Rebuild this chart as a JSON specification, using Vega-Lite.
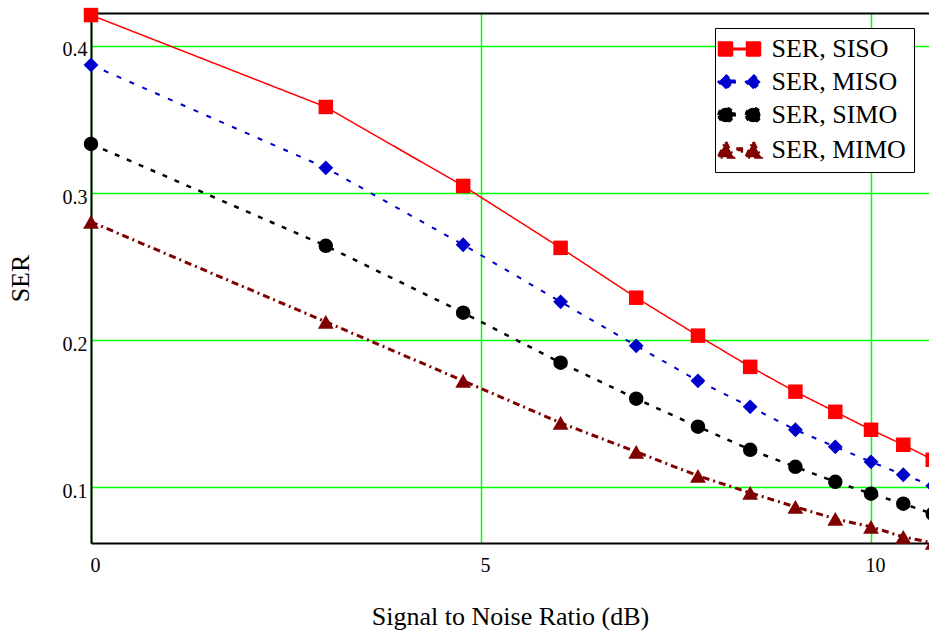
{
  "$schema": "https://vega.github.io/schema/vega-lite/v6.json",
  "autosize": "none",
  "width": 838,
  "height": 530,
  "padding": {"left": 91, "top": 13, "right": 0, "bottom": 91},
  "background": "white",
  "data": {"values": [
    {"snr": 0, "ser": 0.421, "s": "SER, SISO"},
    {"snr": 3.0103, "ser": 0.3585, "s": "SER, SISO"},
    {"snr": 4.7712, "ser": 0.3048, "s": "SER, SISO"},
    {"snr": 6.0206, "ser": 0.2627, "s": "SER, SISO"},
    {"snr": 6.9897, "ser": 0.2288, "s": "SER, SISO"},
    {"snr": 7.7815, "ser": 0.203, "s": "SER, SISO"},
    {"snr": 8.451, "ser": 0.1818, "s": "SER, SISO"},
    {"snr": 9.0309, "ser": 0.1649, "s": "SER, SISO"},
    {"snr": 9.5424, "ser": 0.1512, "s": "SER, SISO"},
    {"snr": 10, "ser": 0.139, "s": "SER, SISO"},
    {"snr": 10.4139, "ser": 0.1288, "s": "SER, SISO"},
    {"snr": 10.7918, "ser": 0.1186, "s": "SER, SISO"},
    {"snr": 0, "ser": 0.3871, "s": "SER, MISO"},
    {"snr": 3.0103, "ser": 0.3171, "s": "SER, MISO"},
    {"snr": 4.7712, "ser": 0.2648, "s": "SER, MISO"},
    {"snr": 6.0206, "ser": 0.226, "s": "SER, MISO"},
    {"snr": 6.9897, "ser": 0.1961, "s": "SER, MISO"},
    {"snr": 7.7815, "ser": 0.1723, "s": "SER, MISO"},
    {"snr": 8.451, "ser": 0.1546, "s": "SER, MISO"},
    {"snr": 9.0309, "ser": 0.139, "s": "SER, MISO"},
    {"snr": 9.5424, "ser": 0.1274, "s": "SER, MISO"},
    {"snr": 10, "ser": 0.1172, "s": "SER, MISO"},
    {"snr": 10.4139, "ser": 0.1084, "s": "SER, MISO"},
    {"snr": 10.7918, "ser": 0.1009, "s": "SER, MISO"},
    {"snr": 0, "ser": 0.3334, "s": "SER, SIMO"},
    {"snr": 3.0103, "ser": 0.2641, "s": "SER, SIMO"},
    {"snr": 4.7712, "ser": 0.2186, "s": "SER, SIMO"},
    {"snr": 6.0206, "ser": 0.1846, "s": "SER, SIMO"},
    {"snr": 6.9897, "ser": 0.1601, "s": "SER, SIMO"},
    {"snr": 7.7815, "ser": 0.1411, "s": "SER, SIMO"},
    {"snr": 8.451, "ser": 0.1254, "s": "SER, SIMO"},
    {"snr": 9.0309, "ser": 0.1138, "s": "SER, SIMO"},
    {"snr": 9.5424, "ser": 0.1036, "s": "SER, SIMO"},
    {"snr": 10, "ser": 0.0955, "s": "SER, SIMO"},
    {"snr": 10.4139, "ser": 0.0887, "s": "SER, SIMO"},
    {"snr": 10.7918, "ser": 0.0818, "s": "SER, SIMO"},
    {"snr": 0, "ser": 0.2804, "s": "SER, MIMO"},
    {"snr": 3.0103, "ser": 0.2124, "s": "SER, MIMO"},
    {"snr": 4.7712, "ser": 0.1723, "s": "SER, MIMO"},
    {"snr": 6.0206, "ser": 0.1437, "s": "SER, MIMO"},
    {"snr": 6.9897, "ser": 0.124, "s": "SER, MIMO"},
    {"snr": 7.7815, "ser": 0.1077, "s": "SER, MIMO"},
    {"snr": 8.451, "ser": 0.0961, "s": "SER, MIMO"},
    {"snr": 9.0309, "ser": 0.0866, "s": "SER, MIMO"},
    {"snr": 9.5424, "ser": 0.0784, "s": "SER, MIMO"},
    {"snr": 10, "ser": 0.073, "s": "SER, MIMO"},
    {"snr": 10.4139, "ser": 0.0662, "s": "SER, MIMO"},
    {"snr": 10.7918, "ser": 0.0621, "s": "SER, MIMO"}
  ]},
  "resolve": {"axis": {"x": "independent"}},
  "layer": [
    {
      "mark": {"type": "line", "clip": false},
      "encoding": {
        "x": {"field": "snr", "type": "quantitative", "scale": {"domain": [0, 10.7436], "nice": false, "zero": false},
              "axis": {"orient": "bottom", "values": [0, 5, 10], "title": "Signal to Noise Ratio (dB)", "labelPadding": 12, "labelOffset": 4, "labelOverlap": false, "labelFlush": false, "titlePadding": 28}},
        "y": {"field": "ser", "type": "quantitative", "scale": {"domain": [0.062, 0.4224], "nice": false, "zero": false},
              "axis": {"values": [0.1, 0.2, 0.3, 0.4], "format": ".1f", "title": "SER", "labelPadding": 4, "labelOffset": 4, "labelOverlap": false, "labelFlush": false, "titlePadding": 29}},
        "color": {"field": "s", "type": "nominal",
                  "scale": {"domain": ["SER, SISO", "SER, MISO", "SER, SIMO", "SER, MIMO"], "range": ["#ff0000", "#0000cc", "#000000", "#800000"]}},
        "strokeDash": {"field": "s", "type": "nominal",
                       "scale": {"domain": ["SER, SISO", "SER, MISO", "SER, SIMO", "SER, MIMO"], "range": [[1, 0], [5, 9], [5, 8], [7, 4, 2, 4]]},
                       "legend": null},
        "strokeWidth": {"field": "s", "type": "nominal",
                        "scale": {"domain": ["SER, SISO", "SER, MISO", "SER, SIMO", "SER, MIMO"], "range": [1.5, 3, 3, 3]},
                        "legend": null}
      }
    },
    {
      "transform": [{"filter": "datum.s === 'SER, SISO'"}],
      "mark": {"type": "point", "shape": "square", "filled": true, "opacity": 1, "size": 210, "color": "#ff0000", "clip": false},
      "encoding": {"x": {"field": "snr", "type": "quantitative", "axis": null}, "y": {"field": "ser", "type": "quantitative"}}
    },
    {
      "transform": [{"filter": "datum.s === 'SER, MISO'"}],
      "mark": {"type": "point", "shape": "diamond", "filled": true, "opacity": 1, "size": 220, "color": "#0000cc", "clip": false},
      "encoding": {"x": {"field": "snr", "type": "quantitative", "axis": null}, "y": {"field": "ser", "type": "quantitative"}}
    },
    {
      "transform": [{"filter": "datum.s === 'SER, SIMO'"}],
      "mark": {"type": "point", "shape": "circle", "filled": true, "opacity": 1, "size": 210, "color": "#000000", "clip": false},
      "encoding": {"x": {"field": "snr", "type": "quantitative", "axis": null}, "y": {"field": "ser", "type": "quantitative"}}
    },
    {
      "transform": [{"filter": "datum.s === 'SER, MIMO'"}],
      "mark": {"type": "point", "shape": "triangle-up", "filled": true, "opacity": 1, "size": 250, "color": "#800000", "clip": false},
      "encoding": {"x": {"field": "snr", "type": "quantitative", "axis": null}, "y": {"field": "ser", "type": "quantitative"}}
    },
    {
      "mark": {"type": "point", "filled": true, "opacity": 0, "size": 196, "clip": false},
      "encoding": {
        "x": {"field": "snr", "type": "quantitative",
              "axis": {"orient": "top", "labels": false, "ticks": false, "grid": false, "title": null, "domain": true}},
        "y": {"field": "ser", "type": "quantitative"},
        "color": {"field": "s", "type": "nominal",
                  "scale": {"domain": ["SER, SISO", "SER, MISO", "SER, SIMO", "SER, MIMO"], "range": ["#ff0000", "#0000cc", "#000000", "#800000"]},
                  "legend": {
                    "orient": "none", "legendX": 624, "legendY": 15, "title": null,
                    "symbolSize": 196, "symbolOffset": 3.5, "labelOffset": 19, "symbolOpacity": 1, "symbolStrokeWidth": 0,
                    "labelFont": "Liberation Serif", "labelFontSize": 26, "labelColor": "black",
                    "padding": 8, "rowPadding": 7,
                    "fillColor": "white", "strokeColor": "black"
                  }},
        "shape": {"field": "s", "type": "nominal",
                  "scale": {"domain": ["SER, SISO", "SER, MISO", "SER, SIMO", "SER, MIMO"],
                            "range": [
                              "M-3,-1H-1V1H-3Z M1,-1H3V1H1Z M-1,-0.11H1V0.11H-1Z",
                              "M-1.96,-1.05L-0.9,0L-1.96,1.05L-3.02,0Z M1.96,-1.05L3.02,0L1.96,1.05L0.9,0Z M-1.3,-0.2H-0.5V0.2H-1.3Z",
                              "M-2.99,0A1.03,1.03,0,1,1,-0.93,0A1.03,1.03,0,1,1,-2.99,0Z M0.93,0A1.03,1.03,0,1,1,2.99,0A1.03,1.03,0,1,1,0.93,0Z M-1.3,-0.2H-0.5V0.2H-1.3Z",
                              "M-1.96,-1.15L-0.86,1.05H-3.06Z M1.96,-1.15L3.06,1.05H0.86Z M-0.25,-0.18H0.3V0.18H-0.25Z"
                            ]},
                  "legend": {
                    "orient": "none", "legendX": 624, "legendY": 15, "title": null,
                    "symbolSize": 196, "symbolOffset": 3.5, "labelOffset": 19, "symbolOpacity": 1, "symbolStrokeWidth": 0,
                    "labelFont": "Liberation Serif", "labelFontSize": 26, "labelColor": "black",
                    "padding": 8, "rowPadding": 7,
                    "fillColor": "white", "strokeColor": "black"
                  }}
      }
    }
  ],
  "config": {
    "view": {"stroke": null},
    "axis": {
      "grid": true, "gridColor": "#00ff00", "gridWidth": 1.5, "gridOpacity": 1,
      "domainColor": "#000000", "domainWidth": 2, "ticks": false,
      "labelFont": "Liberation Serif", "labelFontSize": 20, "labelColor": "#000000",
      "titleFont": "Liberation Serif", "titleFontSize": 26, "titleFontWeight": "normal", "titleColor": "#000000"
    }
  }
}
